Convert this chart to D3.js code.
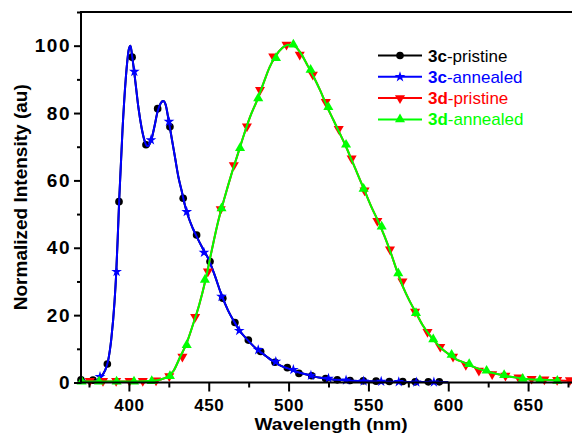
<!DOCTYPE html>
<html>
<head>
<meta charset="utf-8">
<script src="https://cdn.jsdelivr.net/npm/d3@7/dist/d3.min.js"></script>
<style>
    body { margin: 0; background: #fff; }
    svg { display: block; }
    text { font-family: "Liberation Sans", Arial, sans-serif; font-weight: bold; }
</style>
</head>
<body>
<svg id="chart" width="572" height="438"></svg>
<script>
/**
 * Spectrum of 3c (the pristine and annealed curves overlap)
 */
const wl3c = [370, 374, 378, 382, 385, 387, 389, 391, 392, 393, 394, 396, 398, 400, 401, 402, 404, 406, 408,
    410, 411, 412, 414, 416, 418, 420, 421.5, 423, 425, 427, 429, 431, 433, 435, 437, 440, 443, 446, 450, 454,
    458, 462, 466, 470, 474, 478, 482, 486, 490, 495, 500, 505, 510, 515, 520, 525, 530, 540, 550, 560, 575, 600];
const int3c = [0.8, 0.4, 0.3, 1.4, 3.5, 6.5, 13, 24, 32, 43, 55, 75, 90, 99, 100, 97, 89.5, 81.5, 75.5,
    71.5, 70.4, 70.2, 72, 76, 80.5, 83, 83.6, 82.5, 77.5, 72, 66.5, 61, 57, 52.8, 49.5, 45.8, 42.8, 40, 36.5, 31.5,
    26, 21.5, 18, 15, 12.8, 10.8, 9.2, 7.8, 6.4, 5.0, 4.1, 3.2, 2.5, 1.9, 1.4, 1.0, 0.8, 0.5, 0.35, 0.25, 0.15, 0.1];

/**
 * Spectrum of 3d (the pristine and annealed curves overlap)
 */
const wl3d = [370, 380, 390, 400, 410, 415, 420, 424, 428, 432, 436, 440, 444, 448, 452, 456, 460, 464, 468,
    472, 476, 480, 484, 488, 492, 496, 500, 504, 508, 512, 516, 520, 524, 528, 532, 536, 540, 544, 548, 552, 556,
    560, 564, 568, 572, 576, 580, 584, 588, 592, 596, 600, 605, 610, 615, 620, 625, 630, 635, 640, 645, 650, 660,
    670, 680];
const int3d = [0.4, 0.3, 0.3, 0.3, 0.4, 0.5, 0.9, 1.7, 3.5, 7.5, 11.5, 17, 23, 30.5, 39.5, 48, 55, 61.5, 67.5,
    73.5, 79, 83.5, 88.5, 93.5, 97, 99.3, 100.3, 99.8, 97.5, 94, 90.5, 86.5, 82, 78, 74, 70, 65.5, 61, 56.5, 52,
    48, 43.5, 38.5, 33, 28, 24, 20.5, 17, 14.3, 12, 10, 8.5, 6.9, 5.9, 4.8, 3.9, 3.2, 2.6, 2.1, 1.6, 1.3, 1.0, 0.8,
    0.6, 0.5];
const greenEnd = 672;

/**
 * Symbol positions of each series
 */
const mk3cPristineX = [370, 377.5, 386.5, 393.8, 402, 410.7, 418, 425.7, 434, 442.4, 450.8, 458.8, 466.4, 474.8,
    482.5, 491.5, 499.2, 506.5, 514.5, 523.2, 530.5, 538.5, 546.8, 554.8, 563.1, 571.5, 579.3, 587.5, 594.4];
const mk3cPristineY = [0.8, 0.7, 5.5, 53.7, 96.6, 70.6, 81.3, 75.9, 54.7, 43.8, 35.9, 25, 17.8, 12.6,
    9.2, 6.0, 4.4, 2.7, 2.0, 1.2, 0.8, 0.6, 0.5, 0.4, 0.3, 0.3, 0.2, 0.2, 0.2];
const mk3cAnnealedX = [381.9, 392.3, 403.4, 413.8, 425.1, 436.2, 447, 458, 469.1, 481, 492, 503, 514, 525, 536,
    547, 558, 569, 580, 591];
const mk3cAnnealedY = [1.7, 32.9, 92.3, 72, 77.5, 50.7, 38.6, 25.5, 15.4, 9.7, 6.2, 3.8, 2.1, 1.2, 0.7,
    0.4, 0.3, 0.2, 0.1, 0.1];
const mk3dPristineX = [375.5, 383.8, 392, 400.4, 408.7, 417, 425.3, 433.5, 441.5, 449.5, 457.5, 465.7, 473.9,
    482.1, 490.4, 498.7, 507, 515.2, 523.3, 531.4, 539.5, 547.6, 555.6, 563.5, 571.3, 579.2, 587, 595, 603, 611,
    619.2, 627.5, 635.8, 644, 652.2, 660.2, 668.2, 676.2];
const mk3dPristineY = [0.5, 0.5, 0.5, 0.5, 0.5, 0.6, 1.9, 7.7, 19.5, 33, 51.5, 64.5, 76,
    86.9, 96.8, 100.3, 97.3, 91.4, 83.3, 75.3, 66.5, 57, 48, 39.5, 30, 21, 15, 10.6, 7.7, 5.2,
    3.5, 2.5, 2.0, 1.5, 1.1, 0.9, 0.8, 0.7];
const mk3dAnnealedX = [370.4, 381.3, 392.3, 403.2, 414.3, 425.7, 436.2, 447.6, 458, 469.6, 481, 492.1, 503,
    513.8, 524.9, 536, 547, 558.3, 568.7, 579.8, 590.6, 602.1, 613.1, 624, 635, 646.6, 657.4, 668.3];
const mk3dAnnealedY = [0.3, 0.3, 0.3, 0.3, 0.4, 1.9, 11.1, 30.5, 51.7, 69.6, 84.4, 96.3, 100.3,
    92.8, 81.8, 70.6, 57.5, 46.3, 32.4, 20.6, 12.8, 8.2, 5.5, 3.5, 2.2, 1.1, 0.7, 0.5];

/**
 * Axis ticks
 */
const xMajorTicks = [400, 450, 500, 550, 600, 650];
const xMinorTicks = [375, 425, 475, 525, 575, 625, 675];
const yMajorTicks = [0, 20, 40, 60, 80, 100];
const yMinorTicks = [10, 30, 50, 70, 90, 110];

const seriesNames = ['3c-pristine', '3c-annealed', '3d-pristine', '3d-annealed'];

const layout = { left: 81, right: 576, top: 12, bottom: 382.5, width: 572 };

const svg = d3.select('#chart');

const xScale = d3.scaleLinear().domain([370, 680]).range([layout.left, layout.right]);
const yScale = d3.scaleLinear().domain([0, 110]).range([layout.bottom, layout.top]);

// symbol shapes
const circle = d3.symbol().type(d3.symbolCircle).size(46);
const star = d3.symbol().type(d3.symbolStar).size(36);
const triangle = d3.symbol().type(d3.symbolTriangle).size(44);

const series = [
    { name: seriesNames[0], color: '#000000', wl: wl3c, val: int3c, mx: mk3cPristineX, my: mk3cPristineY,
        shape: circle, rot: 0 },
    { name: seriesNames[1], color: '#0000ff', wl: wl3c, val: int3c, mx: mk3cAnnealedX, my: mk3cAnnealedY,
        shape: star, rot: 0 },
    { name: seriesNames[2], color: '#ff0000', wl: wl3d, val: int3d, mx: mk3dPristineX, my: mk3dPristineY,
        shape: triangle, rot: 180 },
    { name: seriesNames[3], color: '#00ff00', wl: wl3d.filter((w) => w <= greenEnd), val: int3d,
        mx: mk3dAnnealedX, my: mk3dAnnealedY, shape: triangle, rot: 0 }
];

const line = d3
    .line()
    .x((d) => xScale(d[0]))
    .y((d) => yScale(d[1]))
    .curve(d3.curveMonotoneX);

const plot = svg.append('g');
series.forEach((s) => {
    const pts = s.wl.map((w, i) => [w, s.val[i]]);
    plot.append('path')
        .datum(pts)
        .attr('fill', 'none')
        .attr('stroke', s.color)
        .attr('stroke-width', 2)
        .attr('d', line);
    plot.selectAll(null)
        .data(s.mx.map((w, i) => [w, s.my[i]]))
        .join('path')
        .attr('d', s.shape)
        .attr('fill', s.color)
        .attr('transform', (d) => `translate(${xScale(d[0])},${yScale(d[1])}) rotate(${s.rot})`);
});

// Frame: left axis, bottom axis and top border
const frame = svg.append('g').attr('stroke', '#000').attr('stroke-width', 2);
frame.append('line').attr('x1', layout.left).attr('x2', layout.left)
    .attr('y1', layout.top - 1).attr('y2', layout.bottom + 1);
frame.append('line').attr('x1', layout.left).attr('x2', layout.width)
    .attr('y1', layout.bottom).attr('y2', layout.bottom);
frame.append('line').attr('x1', layout.left).attr('x2', layout.width)
    .attr('y1', layout.top).attr('y2', layout.top);

// x ticks
const xAxis = svg.append('g').attr('transform', `translate(0,${layout.bottom})`);
xAxis.call(d3.axisBottom(xScale).tickValues(xMajorTicks).tickSize(9).tickPadding(7).tickFormat(d3.format('d')));
xAxis.append('g').call(d3.axisBottom(xScale).tickValues(xMinorTicks).tickSize(5).tickFormat(''));
xAxis.selectAll('.domain').remove();
xAxis.selectAll('line').attr('stroke-width', 2);
xAxis.selectAll('text').attr('font-size', 17).attr('fill', '#000').attr('font-family', null)
    .attr('letter-spacing', 0.6);

// y ticks
const yAxis = svg.append('g').attr('transform', `translate(${layout.left},0)`);
yAxis.call(d3.axisLeft(yScale).tickValues(yMajorTicks).tickSize(7).tickPadding(3));
yAxis.append('g').call(d3.axisLeft(yScale).tickValues(yMinorTicks).tickSize(4).tickFormat(''));
yAxis.selectAll('.domain').remove();
yAxis.selectAll('line').attr('stroke-width', 2);
yAxis.selectAll('text').attr('font-size', 19).attr('fill', '#000').attr('font-family', null)
    .attr('letter-spacing', 1.5);

// Axis titles
svg.append('text')
    .attr('x', 331)
    .attr('y', 430)
    .attr('text-anchor', 'middle')
    .attr('font-size', 16)
    .attr('textLength', 153)
    .attr('lengthAdjust', 'spacingAndGlyphs')
    .text('Wavelength (nm)');
svg.append('text')
    .attr('transform', `translate(27,${(layout.top + layout.bottom) / 2}) rotate(-90)`)
    .attr('text-anchor', 'middle')
    .attr('font-size', 19)
    .text('Normalized Intensity (au)');

// Legend
const legend = svg.append('g').attr('transform', 'translate(378,55.5)');
series.forEach((s, i) => {
    const row = legend.append('g').attr('transform', `translate(0,${i * 21.3})`);
    row.append('line').attr('x1', 0).attr('x2', 44).attr('stroke', s.color).attr('stroke-width', 2);
    row.append('path').attr('d', s.shape).attr('fill', s.color)
        .attr('transform', `translate(22,0) rotate(${s.rot})`);
    const [id, state] = s.name.split('-');
    const label = row.append('text').attr('x', 50).attr('y', 6).attr('font-size', 17).attr('fill', s.color);
    label.append('tspan').text(id);
    label.append('tspan').attr('font-weight', 'normal').text(`-${state}`);
});
</script>
</body>
</html>
